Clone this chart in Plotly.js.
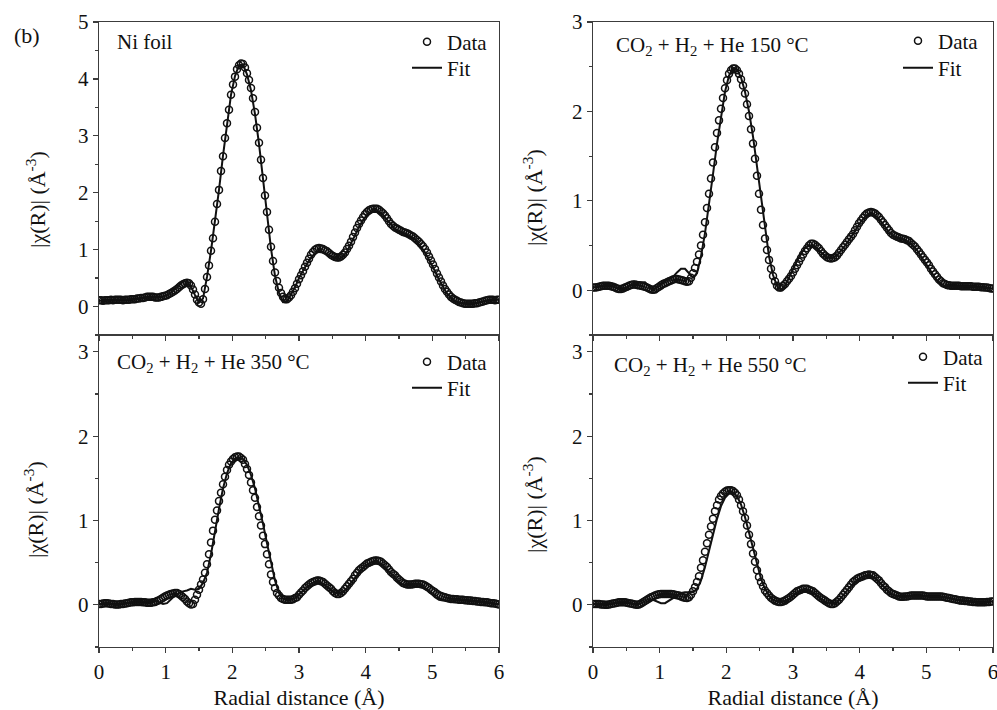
<!DOCTYPE html>
<html>
<head>
<meta charset="utf-8">
<script src="https://cdn.plot.ly/plotly-3.0.1.min.js"></script>
<style>html,body{margin:0;padding:0;background:#fff;}#chart{width:997px;height:710px;}</style>
</head>
<body>
<div id="chart"></div>
<script>
// Radial distance grid of the measured points (Å)
const xData = [
0,0.03,0.06,0.09,0.12,0.15,0.18,0.21,0.24,0.27,
0.3,0.33,0.36,0.39,0.42,0.45,0.48,0.51,0.54,0.57,
0.6,0.63,0.66,0.69,0.72,0.75,0.78,0.81,0.84,0.87,
0.9,0.93,0.96,0.99,1.02,1.05,1.08,1.11,1.14,1.17,
1.2,1.23,1.26,1.29,1.32,1.35,1.38,1.41,1.44,1.47,
1.5,1.53,1.56,1.59,1.62,1.65,1.68,1.71,1.74,1.77,
1.8,1.83,1.86,1.89,1.92,1.95,1.98,2.01,2.04,2.07,
2.1,2.13,2.16,2.19,2.22,2.25,2.28,2.31,2.34,2.37,
2.4,2.43,2.46,2.49,2.52,2.55,2.58,2.61,2.64,2.67,
2.7,2.73,2.76,2.79,2.82,2.85,2.88,2.91,2.94,2.97,
3,3.03,3.06,3.09,3.12,3.15,3.18,3.21,3.24,3.27,
3.3,3.33,3.36,3.39,3.42,3.45,3.48,3.51,3.54,3.57,
3.6,3.63,3.66,3.69,3.72,3.75,3.78,3.81,3.84,3.87,
3.9,3.93,3.96,3.99,4.02,4.05,4.08,4.11,4.14,4.17,
4.2,4.23,4.26,4.29,4.32,4.35,4.38,4.41,4.44,4.47,
4.5,4.53,4.56,4.59,4.62,4.65,4.68,4.71,4.74,4.77,
4.8,4.83,4.86,4.89,4.92,4.95,4.98,5.01,5.04,5.07,
5.1,5.13,5.16,5.19,5.22,5.25,5.28,5.31,5.34,5.37,
5.4,5.43,5.46,5.49,5.52,5.55,5.58,5.61,5.64,5.67,
5.7,5.73,5.76,5.79,5.82,5.85,5.88,5.91,5.94,5.97,
6];

// Radial distance grid of the fit curves (Å)
const xFit = [
0,0.06,0.12,0.18,0.24,0.3,0.36,0.42,0.48,0.54,
0.6,0.66,0.72,0.78,0.84,0.9,0.96,1.02,1.08,1.14,
1.2,1.26,1.32,1.38,1.44,1.5,1.56,1.62,1.68,1.74,
1.8,1.86,1.92,1.98,2.04,2.1,2.16,2.22,2.28,2.34,
2.4,2.46,2.52,2.58,2.64,2.7,2.76,2.82,2.88,2.94,
3,3.06,3.12,3.18,3.24,3.3,3.36,3.42,3.48,3.54,
3.6,3.66,3.72,3.78,3.84,3.9,3.96,4.02,4.08,4.14,
4.2,4.26,4.32,4.38,4.44,4.5,4.56,4.62,4.68,4.74,
4.8,4.86,4.92,4.98,5.04,5.1,5.16,5.22,5.28,5.34,
5.4,5.46,5.52,5.58,5.64,5.7,5.76,5.82,5.88,5.94,
6];

// Ni foil
const niData = [
0.11,0.11,0.10,0.11,0.11,0.11,0.12,0.11,0.12,0.12,
0.12,0.12,0.11,0.12,0.12,0.12,0.13,0.13,0.13,0.14,
0.14,0.15,0.15,0.16,0.17,0.17,0.17,0.17,0.16,0.16,
0.16,0.17,0.18,0.19,0.20,0.22,0.24,0.26,0.28,0.31,
0.34,0.37,0.39,0.41,0.42,0.41,0.37,0.30,0.21,0.12,
0.07,0.05,0.13,0.31,0.52,0.72,0.98,1.20,1.49,1.80,
2.05,2.38,2.64,2.96,3.22,3.46,3.72,3.90,4.04,4.17,
4.24,4.27,4.26,4.20,4.10,3.98,3.84,3.66,3.42,3.14,
2.88,2.58,2.26,1.95,1.66,1.35,1.05,0.80,0.60,0.45,
0.33,0.24,0.17,0.13,0.13,0.16,0.20,0.26,0.32,0.40,
0.48,0.55,0.62,0.70,0.77,0.84,0.91,0.96,1.00,1.02,
1.03,1.02,1.01,0.99,0.97,0.94,0.91,0.89,0.87,0.86,
0.86,0.88,0.91,0.95,1.01,1.07,1.14,1.22,1.30,1.38,
1.45,1.51,1.57,1.62,1.66,1.69,1.71,1.72,1.72,1.72,
1.70,1.67,1.64,1.60,1.55,1.50,1.45,1.42,1.39,1.37,
1.35,1.33,1.31,1.30,1.29,1.27,1.25,1.23,1.20,1.17,
1.14,1.10,1.06,1.01,0.95,0.88,0.81,0.74,0.66,0.58,
0.51,0.44,0.37,0.31,0.26,0.21,0.17,0.14,0.12,0.10,
0.08,0.07,0.06,0.05,0.05,0.05,0.05,0.05,0.06,0.06,
0.07,0.08,0.09,0.10,0.11,0.12,0.12,0.12,0.11,0.12,
0.12];
const niFit = [
0.10,0.10,0.10,0.11,0.11,0.12,0.12,0.11,0.12,0.13,
0.14,0.14,0.15,0.17,0.17,0.16,0.17,0.20,0.24,0.31,
0.38,0.44,0.44,0.35,0.20,0.07,0.14,0.52,0.98,1.50,
2.05,2.65,3.22,3.72,4.05,4.24,4.25,4.08,3.80,3.38,
2.86,2.24,1.62,1.02,0.54,0.24,0.08,0.10,0.21,0.34,
0.50,0.63,0.75,0.86,0.93,0.96,0.95,0.92,0.88,0.85,
0.84,0.88,0.97,1.10,1.25,1.40,1.52,1.61,1.66,1.68,
1.66,1.61,1.52,1.43,1.36,1.32,1.29,1.26,1.23,1.18,
1.10,1.00,0.89,0.76,0.62,0.47,0.34,0.23,0.15,0.10,
0.07,0.05,0.05,0.05,0.06,0.07,0.09,0.11,0.12,0.12,
0.12];

// CO2 + H2 + He 150 °C
const t150Data = [
0.03,0.03,0.035,0.04,0.045,0.05,0.05,0.05,0.05,0.045,
0.04,0.03,0.02,0.015,0.015,0.02,0.03,0.04,0.05,0.06,
0.065,0.065,0.06,0.055,0.05,0.045,0.04,0.03,0.02,0.01,
0.005,0.01,0.025,0.04,0.055,0.07,0.08,0.09,0.10,0.11,
0.12,0.125,0.125,0.12,0.115,0.11,0.10,0.095,0.10,0.14,
0.19,0.25,0.32,0.40,0.50,0.62,0.76,0.92,1.08,1.25,
1.43,1.60,1.76,1.90,2.03,2.15,2.26,2.35,2.42,2.46,
2.48,2.48,2.46,2.42,2.36,2.29,2.20,2.08,1.95,1.80,
1.64,1.47,1.28,1.08,0.90,0.73,0.58,0.45,0.34,0.24,
0.16,0.10,0.05,0.03,0.03,0.05,0.07,0.10,0.13,0.16,
0.20,0.24,0.28,0.32,0.36,0.40,0.44,0.47,0.50,0.52,
0.52,0.51,0.49,0.47,0.44,0.41,0.39,0.37,0.36,0.355,
0.36,0.37,0.39,0.42,0.45,0.48,0.51,0.54,0.57,0.60,
0.63,0.67,0.71,0.75,0.78,0.81,0.84,0.86,0.87,0.875,
0.87,0.86,0.84,0.82,0.79,0.76,0.73,0.70,0.67,0.64,
0.62,0.61,0.60,0.59,0.58,0.575,0.57,0.56,0.55,0.53,
0.51,0.49,0.46,0.43,0.40,0.37,0.34,0.31,0.28,0.24,
0.21,0.18,0.15,0.12,0.10,0.08,0.07,0.06,0.055,0.05,
0.05,0.05,0.05,0.05,0.045,0.045,0.045,0.045,0.045,0.045,
0.04,0.04,0.04,0.04,0.035,0.035,0.03,0.03,0.025,0.02,
0.02];
const t150Fit = [
0.03,0.04,0.05,0.06,0.07,0.05,0.02,0.00,0.02,0.05,
0.07,0.08,0.09,0.09,0.05,0.00,0.03,0.07,0.10,0.12,
0.15,0.20,0.24,0.24,0.19,0.14,0.19,0.38,0.64,0.95,
1.30,1.64,1.96,2.22,2.40,2.48,2.47,2.38,2.22,2.00,
1.72,1.38,1.02,0.66,0.38,0.17,0.05,0.00,0.05,0.14,
0.24,0.33,0.41,0.47,0.50,0.50,0.47,0.42,0.38,0.36,
0.36,0.39,0.44,0.50,0.56,0.63,0.70,0.77,0.82,0.85,
0.85,0.82,0.77,0.71,0.65,0.61,0.59,0.57,0.56,0.54,
0.50,0.45,0.38,0.31,0.24,0.17,0.11,0.07,0.05,0.04,
0.04,0.04,0.04,0.04,0.04,0.04,0.03,0.03,0.03,0.02,
0.02];

// CO2 + H2 + He 350 °C
const t350Data = [
0.01,0.01,0.015,0.02,0.02,0.015,0.01,0.01,0.005,0.005,
0.005,0.01,0.01,0.015,0.02,0.025,0.03,0.03,0.035,0.035,
0.035,0.035,0.03,0.03,0.025,0.025,0.025,0.03,0.035,0.045,
0.055,0.07,0.085,0.10,0.11,0.12,0.13,0.135,0.14,0.14,
0.13,0.11,0.09,0.07,0.04,0.02,0.005,0.01,0.06,0.12,
0.18,0.24,0.30,0.38,0.48,0.60,0.74,0.88,1.01,1.12,
1.23,1.33,1.43,1.52,1.60,1.66,1.70,1.73,1.75,1.76,
1.76,1.74,1.72,1.67,1.61,1.54,1.45,1.36,1.27,1.16,
1.05,0.94,0.82,0.72,0.60,0.48,0.36,0.27,0.20,0.14,
0.11,0.08,0.07,0.06,0.06,0.06,0.06,0.065,0.08,0.09,
0.12,0.145,0.17,0.20,0.22,0.24,0.26,0.27,0.28,0.29,
0.29,0.28,0.27,0.25,0.23,0.21,0.19,0.16,0.14,0.13,
0.13,0.14,0.16,0.19,0.22,0.25,0.28,0.31,0.35,0.38,
0.41,0.43,0.45,0.47,0.49,0.50,0.51,0.52,0.525,0.525,
0.52,0.51,0.49,0.47,0.45,0.42,0.39,0.37,0.35,0.32,
0.30,0.28,0.26,0.25,0.24,0.24,0.24,0.245,0.25,0.25,
0.25,0.245,0.24,0.23,0.215,0.20,0.18,0.165,0.15,0.13,
0.115,0.105,0.095,0.09,0.08,0.075,0.07,0.07,0.065,0.065,
0.06,0.06,0.06,0.055,0.055,0.05,0.05,0.045,0.045,0.04,
0.04,0.035,0.035,0.03,0.03,0.025,0.02,0.02,0.015,0.01,
0.005];
const t350Fit = [
0.01,0.01,0.02,0.01,0.00,0.01,0.02,0.02,0.03,0.05,
0.05,0.04,0.04,0.05,0.05,0.03,0.01,0.02,0.07,0.11,
0.14,0.16,0.17,0.19,0.18,0.19,0.26,0.38,0.60,0.88,
1.14,1.38,1.56,1.68,1.73,1.75,1.73,1.66,1.54,1.38,
1.18,0.96,0.73,0.50,0.29,0.14,0.07,0.06,0.06,0.08,
0.12,0.17,0.21,0.25,0.27,0.27,0.25,0.21,0.17,0.14,
0.13,0.15,0.20,0.26,0.33,0.39,0.44,0.48,0.50,0.51,
0.50,0.47,0.42,0.36,0.31,0.27,0.24,0.23,0.23,0.24,
0.24,0.22,0.18,0.13,0.09,0.06,0.05,0.05,0.06,0.06,
0.06,0.06,0.05,0.05,0.04,0.04,0.03,0.03,0.02,0.01,
0.01];

// CO2 + H2 + He 550 °C
const t550Data = [
0.01,0.01,0.01,0.01,0.005,0.005,0.0,0.0,0.005,0.01,
0.015,0.02,0.025,0.03,0.03,0.03,0.03,0.025,0.02,0.015,
0.01,0.005,0.0,0.005,0.015,0.03,0.045,0.06,0.075,0.09,
0.10,0.11,0.12,0.125,0.13,0.13,0.13,0.13,0.13,0.13,
0.125,0.12,0.115,0.11,0.10,0.09,0.085,0.08,0.09,0.12,
0.16,0.21,0.27,0.34,0.44,0.53,0.63,0.73,0.83,0.93,
1.02,1.11,1.18,1.25,1.29,1.32,1.34,1.355,1.36,1.36,
1.35,1.33,1.30,1.25,1.18,1.11,1.03,0.94,0.83,0.72,
0.61,0.51,0.41,0.33,0.27,0.22,0.17,0.14,0.11,0.085,
0.065,0.05,0.04,0.035,0.035,0.04,0.05,0.065,0.08,0.10,
0.12,0.14,0.16,0.17,0.18,0.19,0.19,0.19,0.18,0.17,
0.16,0.14,0.12,0.10,0.08,0.065,0.05,0.035,0.02,0.01,
0.01,0.02,0.04,0.06,0.09,0.12,0.15,0.18,0.21,0.24,
0.27,0.29,0.31,0.32,0.33,0.34,0.35,0.355,0.36,0.355,
0.35,0.33,0.31,0.29,0.26,0.23,0.21,0.18,0.16,0.14,
0.13,0.12,0.11,0.10,0.095,0.095,0.10,0.10,0.105,0.11,
0.11,0.11,0.11,0.11,0.11,0.11,0.105,0.10,0.10,0.10,
0.10,0.10,0.10,0.10,0.10,0.095,0.09,0.085,0.08,0.075,
0.07,0.065,0.06,0.055,0.05,0.05,0.045,0.045,0.04,0.04,
0.035,0.035,0.03,0.03,0.03,0.03,0.03,0.035,0.035,0.04,
0.04];
const t550Fit = [
0.01,0.01,0.01,0.01,0.02,0.02,0.03,0.04,0.04,0.03,
0.01,0.00,0.02,0.05,0.07,0.06,0.04,0.02,0.02,0.05,
0.09,0.12,0.14,0.15,0.15,0.15,0.19,0.29,0.45,0.64,
0.84,1.02,1.17,1.27,1.32,1.33,1.29,1.19,1.04,0.86,
0.66,0.47,0.31,0.19,0.11,0.06,0.04,0.03,0.04,0.07,
0.11,0.15,0.17,0.18,0.17,0.15,0.11,0.07,0.04,0.02,
0.01,0.03,0.08,0.14,0.20,0.25,0.29,0.32,0.34,0.34,
0.33,0.30,0.25,0.20,0.15,0.12,0.10,0.09,0.09,0.10,
0.10,0.10,0.10,0.10,0.10,0.10,0.10,0.09,0.09,0.08,
0.07,0.06,0.05,0.05,0.04,0.04,0.03,0.03,0.03,0.04,
0.04];

const panelLabels = [
  'Ni foil',
  'CO<sub>2</sub> + H<sub>2</sub> + He 150 °C',
  'CO<sub>2</sub> + H<sub>2</sub> + He 350 °C',
  'CO<sub>2</sub> + H<sub>2</sub> + He 550 °C'
];
const seriesNames = ['Data', 'Fit'];
const yRanges = [[-0.5, 5], [-0.5, 3], [-0.5, 3.2], [-0.5, 3.2]];
const xTitle = 'Radial distance (Å)';
const yTitle = '|χ(R)| (Å<sup>-3</sup>)';
const figLabel = '(b)';

const dataSets = [niData, t150Data, t350Data, t550Data];
const fitSets = [niFit, t150Fit, t350Fit, t550Fit];

const W = 997, H = 710;
const FONT = 'Liberation Serif, Times New Roman, serif';
const INK = '#111111';
const AXC = '#3c3c3c';
const px = v => v / W;
const py = v => 1 - v / H;

// panel geometry in pixels: [left, right, top, bottom]
const boxes = [[99, 499, 22, 335], [593, 993, 22, 335], [99, 499, 335, 647], [593, 993, 335, 647]];
// legend rows: [left, centre of Data row, centre of Fit row]
const legendPos = [[407, 42, 68], [898, 41, 68], [407, 362, 388], [903, 357, 383]];
const labelPos = [[115, 42], [614, 46], [115, 363], [612, 366]];
const yTitlePos = [[36, 200], [533, 198], [34, 510], [533, 505]];

const traces = [];
const layout = {
  width: W, height: H,
  margin: {l: 0, r: 0, t: 0, b: 0},
  paper_bgcolor: '#ffffff', plot_bgcolor: '#ffffff',
  font: {family: FONT, size: 21, color: INK},
  showlegend: true,
  annotations: [],
};

function legendName(k) { return 'legend' + (k === 1 ? '' : k); }

boxes.forEach((b, i) => {
  const n = i + 1;
  const xa = 'xaxis' + (n === 1 ? '' : n);
  const ya = 'yaxis' + (n === 1 ? '' : n);
  const xr = 'x' + (n === 1 ? '' : n);
  const yr = 'y' + (n === 1 ? '' : n);
  const lgData = legendName(2 * i + 1);
  const lgFit = legendName(2 * i + 2);
  const bottomRow = i >= 2;

  traces.push({
    type: 'scatter', mode: 'markers', name: seriesNames[0],
    x: xData, y: dataSets[i], xaxis: xr, yaxis: yr, legend: lgData,
    marker: {symbol: 'circle-open', size: 7, color: INK, line: {width: 1.5, color: INK}},
    hoverinfo: 'skip'
  });
  traces.push({
    type: 'scatter', mode: 'lines', name: seriesNames[1],
    x: xFit, y: fitSets[i], xaxis: xr, yaxis: yr, legend: lgFit,
    line: {color: INK, width: 2},
    hoverinfo: 'skip'
  });

  layout[xa] = {
    domain: [px(b[0]), px(b[1])], anchor: yr, range: [0, 6],
    showline: true, mirror: true, linecolor: AXC, linewidth: 1.3,
    showgrid: false, zeroline: false,
    ticks: 'outside', ticklen: 5, tickwidth: 1.2, tickcolor: AXC,
    tick0: 0, dtick: 1,
    minor: {ticks: 'outside', ticklen: 3, tickwidth: 1.2, tickcolor: AXC, dtick: 0.5, tick0: 0, showgrid: false},
    showticklabels: bottomRow,
    ticklabeloverflow: 'allow',
    tickfont: {family: FONT, size: 21, color: INK},
    fixedrange: true
  };
  if (bottomRow) {
    layout[xa].title = {text: xTitle, font: {family: FONT, size: 22, color: INK}, standoff: 9};
  }
  layout[ya] = {
    domain: [py(b[3]), py(b[2])], anchor: xr, range: yRanges[i],
    showline: true, mirror: true, linecolor: AXC, linewidth: 1.3,
    showgrid: false, zeroline: false,
    ticks: 'outside', ticklen: 5, tickwidth: 1.2, tickcolor: AXC,
    tick0: 0, dtick: 1,
    minor: {ticks: 'outside', ticklen: 3, tickwidth: 1.2, tickcolor: AXC, dtick: 0.5, tick0: 0, showgrid: false},
    tickfont: {family: FONT, size: 21, color: INK},
    fixedrange: true
  };
  const lp = legendPos[i];
  [[lgData, lp[1]], [lgFit, lp[2]]].forEach(([name, yc]) => {
    layout[name] = {
      x: px(lp[0]), y: py(yc), xanchor: 'left', yanchor: 'middle',
      bgcolor: 'rgba(0,0,0,0)', borderwidth: 0,
      font: {family: FONT, size: 21, color: INK},
      tracegroupgap: 0, itemwidth: 30
    };
  });
  layout.annotations.push({
    text: panelLabels[i], xref: 'paper', yref: 'paper',
    x: px(labelPos[i][0]), y: py(labelPos[i][1]), xanchor: 'left', yanchor: 'middle',
    showarrow: false, font: {family: FONT, size: 21, color: INK}
  });
  layout.annotations.push({
    text: yTitle, xref: 'paper', yref: 'paper', textangle: -90,
    x: px(yTitlePos[i][0]), y: py(yTitlePos[i][1]), xanchor: 'center', yanchor: 'middle',
    showarrow: false, font: {family: FONT, size: 22, color: INK}
  });
});

layout.annotations.push({
  text: figLabel, xref: 'paper', yref: 'paper',
  x: px(12), y: py(35), xanchor: 'left', yanchor: 'middle',
  showarrow: false, font: {family: FONT, size: 22, color: INK}
});

Plotly.newPlot('chart', traces, layout, {displayModeBar: false, staticPlot: true});
</script>
</body>
</html>
